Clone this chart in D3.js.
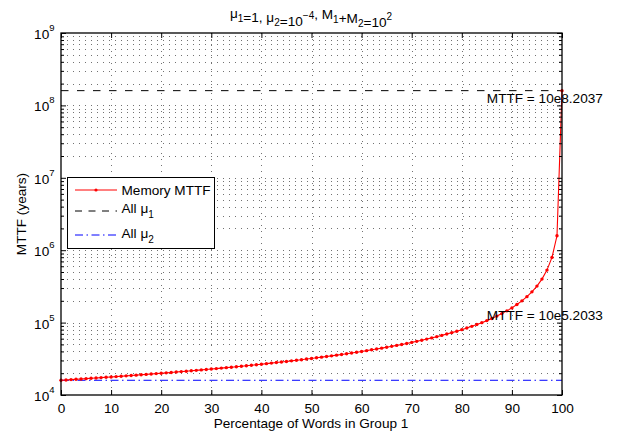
<!DOCTYPE html>
<html>
<head>
<meta charset="utf-8">
<script src="https://cdn.jsdelivr.net/npm/d3@7"></script>
<style>
  body { margin: 0; background: #fff; }
  svg { display: block; font-family: "Liberation Sans", Arial, Helvetica, sans-serif; }
</style>
</head>
<body>
<svg id="chart" width="618" height="439"></svg>
<script>
// Percentage of memory words assigned to group 1 (x values)
const percentGroup1 = d3.range(0, 101);

// Memory MTTF in years for each percentage
const memoryMTTF = [
  15990, 16150, 16310, 16480, 16650, 16830, 17010, 17190, 17380, 17570,
  17760, 17960, 18170, 18380, 18590, 18810, 19030, 19260, 19500, 19740,
  19990, 20240, 20500, 20760, 21040, 21320, 21610, 21900, 22210, 22520,
  22840, 23170, 23510, 23860, 24220, 24600, 24980, 25380, 25790, 26210,
  26650, 27100, 27560, 28050, 28550, 29070, 29610, 30170, 30740, 31350,
  31970, 32630, 33310, 34010, 34750, 35530, 36330, 37180, 38060, 38990,
  39960, 40990, 42070, 43200, 44400, 45670, 47010, 48440, 49950, 51560,
  53280, 55120, 57090, 59200, 61480, 63930, 66600, 69490, 72650, 76110,
  79910, 84110, 88780, 94000, 99870, 106500, 114100, 122900, 133100, 145200,
  159700, 177500, 199600, 228100, 266100, 319200, 398700, 531200, 795500, 1583000,
  159880000
];

// Reference levels: every word at rate mu1 / every word at rate mu2
const allMu1 = 159880000;  // 10^8.2037
const allMu2 = 15970;      // 10^4.2033

// Axis ticks
const xTicks = [0, 10, 20, 30, 40, 50, 60, 70, 80, 90, 100];
const yDecadeExponents = [4, 5, 6, 7, 8, 9];

// Text annotations: x position, value, label
const noteX = [85, 85];
const noteValues = [allMu1, memoryMTTF[90]];
const noteLabels = ["MTTF = 10e8.2037", "MTTF = 10e5.2033"];

(function draw() {
  const svg = d3.select("#chart");
  const FS = 13.6;

  const x = d3.scaleLinear().domain([0, 100]).range([61, 562]);
  const y = d3.scaleLog().domain([1e4, 1e9]).range([395, 33]);

  const yMajor = yDecadeExponents.map(e => Math.pow(10, e));
  const yMinor = [];
  yDecadeExponents.slice(0, -1).forEach(e => {
    for (let k = 2; k <= 9; k++) yMinor.push(k * Math.pow(10, e));
  });

  // ---- grid (dotted) ----
  const grid = svg.append("g").attr("stroke", "#000").attr("stroke-width", 1)
    .attr("stroke-dasharray", "1,5").attr("fill", "none").attr("opacity", 0.55);
  grid.selectAll("line.h").data(yMajor.concat(yMinor).filter(v => v > 1e4 && v < 1e9))
    .join("line").attr("class", "h")
    .attr("x1", x(0)).attr("x2", x(100))
    .attr("y1", d => Math.round(y(d)) + 0.5).attr("y2", d => Math.round(y(d)) + 0.5);
  grid.selectAll("line.v").data(xTicks.filter(t => t > 0 && t < 100))
    .join("line").attr("class", "v")
    .attr("x1", d => Math.round(x(d)) + 0.5).attr("x2", d => Math.round(x(d)) + 0.5)
    .attr("y1", y(1e9)).attr("y2", y(1e4));

  // ---- reference lines ----
  const line = d3.line().x(d => x(d[0])).y(d => y(d[1]));
  svg.append("path")
    .attr("d", line([[0, allMu1], [100, allMu1]]))
    .attr("stroke", "#000").attr("stroke-width", 1).attr("fill", "none")
    .attr("stroke-dasharray", "7.5,8.5");
  svg.append("path")
    .attr("d", line([[0, allMu2], [100, allMu2]]))
    .attr("stroke", "#0000ff").attr("stroke-width", 1).attr("fill", "none")
    .attr("stroke-dasharray", "8,3.5,1.5,3.5");

  // ---- memory MTTF curve ----
  const pts = percentGroup1.map((p, i) => [p, memoryMTTF[i]]);
  svg.append("path")
    .attr("d", line(pts))
    .attr("stroke", "#ff0000").attr("stroke-width", 1.1).attr("fill", "none");
  svg.append("g").selectAll("circle").data(pts).join("circle")
    .attr("cx", d => x(d[0])).attr("cy", d => y(d[1])).attr("r", 1.7)
    .attr("fill", "#ff0000");

  // ---- axes ----
  const axG = svg.append("g");
  const axBottom = axG.append("g").attr("transform", `translate(0,${y(1e4)})`)
    .call(d3.axisBottom(x).tickValues(xTicks).tickSizeInner(-5).tickSizeOuter(0).tickPadding(8));
  axG.append("g").attr("transform", `translate(0,${y(1e9)})`)
    .call(d3.axisTop(x).tickValues(xTicks).tickSizeInner(-5).tickSizeOuter(0).tickFormat(""));
  axG.append("g").attr("transform", `translate(${x(0)},0)`)
    .call(d3.axisLeft(y).tickValues(yMajor).tickSizeInner(-5).tickSizeOuter(0).tickFormat(""));
  axG.append("g").attr("transform", `translate(${x(0)},0)`)
    .call(d3.axisLeft(y).tickValues(yMinor).tickSizeInner(-3).tickSizeOuter(0).tickFormat(""));
  axG.append("g").attr("transform", `translate(${x(100)},0)`)
    .call(d3.axisRight(y).tickValues(yMajor).tickSizeInner(-5).tickSizeOuter(0).tickFormat(""));
  axG.append("g").attr("transform", `translate(${x(100)},0)`)
    .call(d3.axisRight(y).tickValues(yMinor).tickSizeInner(-3).tickSizeOuter(0).tickFormat(""));
  axG.selectAll(".domain").remove();
  axG.selectAll(".tick line").attr("stroke", "#000");
  axBottom.attr("font-size", FS).attr("font-family", null);
  axBottom.selectAll("text").attr("fill", "#000");

  // plot box
  svg.append("rect")
    .attr("x", x(0)).attr("y", y(1e9))
    .attr("width", x(100) - x(0)).attr("height", y(1e4) - y(1e9))
    .attr("fill", "none").attr("stroke", "#000").attr("stroke-width", 1.3);

  // y tick labels as powers of ten
  const yLab = svg.append("g").attr("font-size", FS).attr("fill", "#000");
  yDecadeExponents.forEach(e => {
    const t = yLab.append("text")
      .attr("x", 54.5).attr("y", y(Math.pow(10, e)) + 6)
      .attr("text-anchor", "end");
    t.append("tspan").text("10");
    t.append("tspan").attr("dy", -8).attr("font-size", 9.5).text(e);
  });

  // ---- annotations ----
  noteLabels.forEach((lab, i) => {
    svg.append("text")
      .attr("x", x(noteX[i])).attr("y", y(noteValues[i]) + 12)
      .attr("font-size", FS).attr("fill", "#000").text(lab);
  });

  // ---- title ----
  const title = svg.append("text").attr("x", 311).attr("y", 18)
    .attr("text-anchor", "middle").attr("font-size", FS).attr("fill", "#000");
  const sub = (txt) => { title.append("tspan").attr("dy", 4).attr("font-size", 10).text(txt); title.append("tspan").attr("dy", -4).text(""); };
  const sup = (txt) => { title.append("tspan").attr("dy", -7).attr("font-size", 10).text(txt); title.append("tspan").attr("dy", 7).text(""); };
  title.append("tspan").text("μ"); sub("1");
  title.append("tspan").text("=1, μ"); sub("2");
  title.append("tspan").text("=10"); sup("−4");
  title.append("tspan").text(", M"); sub("1");
  title.append("tspan").text("+M"); sub("2");
  title.append("tspan").text("=10"); sup("2");

  // ---- axis labels ----
  svg.append("text").attr("x", 311).attr("y", 428)
    .attr("text-anchor", "middle").attr("font-size", FS).attr("fill", "#000")
    .text("Percentage of Words in Group 1");
  svg.append("text").attr("transform", "translate(26,214) rotate(-90)")
    .attr("text-anchor", "middle").attr("font-size", FS).attr("fill", "#000")
    .text("MTTF (years)");

  // ---- legend ----
  const lg = svg.append("g");
  lg.append("rect").attr("x", 67.5).attr("y", 177.5).attr("width", 147).attr("height", 71)
    .attr("fill", "#fff").attr("stroke", "#000").attr("stroke-width", 1);
  const legendRows = [
    { ly: 190, ty: 195, color: "#ff0000", dash: null, marker: true, main: "Memory MTTF", sub: null },
    { ly: 211, ty: 213, color: "#000", dash: "7,6.5", marker: false, main: "All μ", sub: "1" },
    { ly: 235, ty: 237.5, color: "#0000ff", dash: "8,3.5,1.5,3.5", marker: false, main: "All μ", sub: "2" }
  ];
  legendRows.forEach(r => {
    lg.append("line").attr("x1", 75).attr("x2", 117).attr("y1", r.ly).attr("y2", r.ly)
      .attr("stroke", r.color).attr("stroke-width", 1)
      .attr("stroke-dasharray", r.dash);
    if (r.marker) lg.append("circle").attr("cx", 96).attr("cy", r.ly).attr("r", 1.6).attr("fill", r.color);
    const t = lg.append("text").attr("x", 121.5).attr("y", r.ty)
      .attr("font-size", FS).attr("fill", "#000");
    t.append("tspan").text(r.main);
    if (r.sub) t.append("tspan").attr("dy", 5).attr("font-size", 10).text(r.sub);
  });
})();
</script>
</body>
</html>
